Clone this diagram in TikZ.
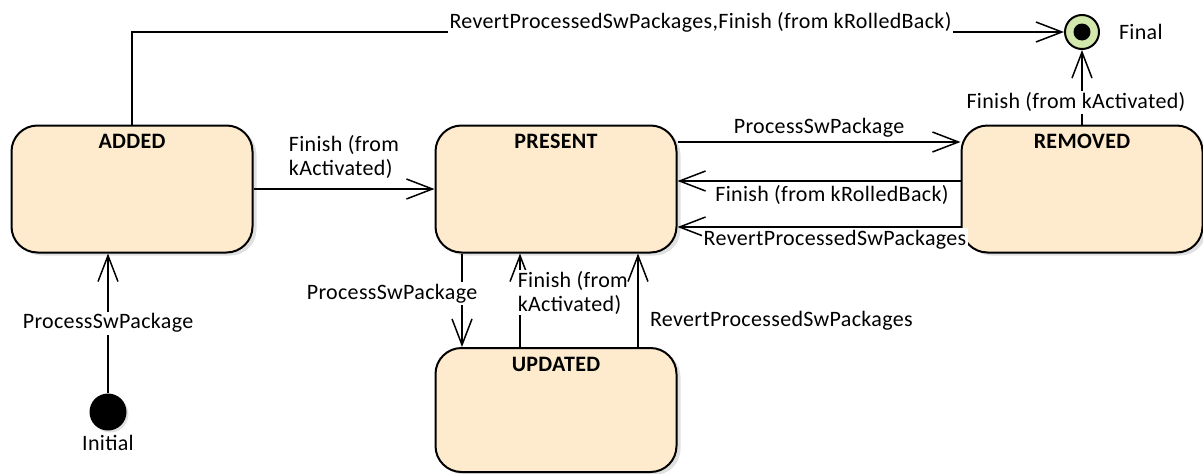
\documentclass[tikz,border=0pt]{standalone}
\usepackage{fontspec}
\setmainfont{Carlito}[LetterSpace=1.5]
\usetikzlibrary{arrows.meta}
\usetikzlibrary{positioning}
\usetikzlibrary{shadows}
\definecolor{statefill}{RGB}{254,234,204}
\definecolor{finalfill}{RGB}{210,232,172}
\newcommand{\labelfont}{\fontsize{22pt}{24pt}\selectfont}
\tikzstyle{state} = [rectangle, draw, line width=2pt, rounded corners=26pt, fill=statefill, minimum width=241pt, text height=15pt, text depth=96pt, inner sep=8pt, font=\labelfont\bfseries, drop shadow={shadow xshift=4pt, shadow yshift=-3pt, opacity=0.2, fill=black!60}]
\tikzstyle{initstate} = [circle, fill=black, minimum size=37pt, inner sep=0pt, drop shadow={shadow xshift=2pt, shadow yshift=-2pt, opacity=0.2, fill=black!60}]
\tikzstyle{finalstate} = [circle, draw, line width=2pt, fill=finalfill, minimum size=34pt, inner sep=0pt, path picture={\fill[black] (path picture bounding box.center) circle (8.5pt);}]
\tikzstyle{trans} = [fill=white, inner sep=2pt]

\begin{document}
\begin{tikzpicture}[x=1pt, y=-1pt, line width=1.5pt, font=\labelfont]

		\useasboundingbox (0,0) rectangle (1203,474);

		\node [state] (A) at (132,189) {ADDED};
		\node [state] (P) at (556,189) {PRESENT};
		\node [state] (R) at (1082,189) {REMOVED};
		\node [state, text depth=93pt] (U) at (556,410) {UPDATED};

		\node [initstate] (I) at (108,412) {};
		\node [below=0pt of I] (IL) {Initial};
		\node [finalstate] (F) at (1082,32) {};
		\node [right=15pt of F] (FL) {Final};

		% transitions
		\draw[-{Straight Barb[length=26pt, width=20pt]}] (I) -- node[trans] {ProcessSwPackage} (I |- A.south);
		\draw[-{Straight Barb[length=26pt, width=20pt]}] (A.north) |- node[trans, pos=0.805, yshift=10pt] {RevertProcessedSwPackages,Finish (from kRolledBack)} (F.west);
		\draw[-{Straight Barb[length=26pt, width=20pt]}] (A.east) -- node[above=6pt, align=left] {Finish (from\\kActivated)} (A.east -| P.west);

		\draw[-{Straight Barb[length=26pt, width=20pt]}] ([yshift=47pt]P.east) -- node[above=1pt] {ProcessSwPackage} ([yshift=47pt]R.west);
		\draw[-{Straight Barb[length=26pt, width=20pt]}] ([yshift=8pt]R.west) -- node[below=0pt, xshift=13pt] {Finish (from kRolledBack)} ([yshift=8pt]P.east);
		\draw[-{Straight Barb[length=26pt, width=20pt]}] ([yshift=-38pt]R.west) -- node[trans, below=0pt, xshift=16pt] {RevertProcessedSwPackages} ([yshift=-38pt]P.east);
		\draw[-{Straight Barb[length=26pt, width=20pt]}] (R) -- node[trans, pos=0.3, xshift=-6pt] {Finish (from kActivated)} (F);

		\draw[-{Straight Barb[length=26pt, width=20pt]}] ([xshift=-94pt]P.south) -- node[trans, pos=0.43, xshift=-70pt] {ProcessSwPackage} ([xshift=-94pt]U.north);
		\draw[-{Straight Barb[length=26pt, width=20pt]}] ([xshift=-36pt]U.north) -- node[trans, anchor=west, align=left, pos=0.58, xshift=-4pt, inner sep=1pt] {Finish (from\\kActivated)} ([xshift=-36pt]P.south);
		\draw[-{Straight Barb[length=26pt, width=20pt]}] ([xshift=82pt]U.north) -- node[anchor=west, pos=0.28, xshift=8pt] {RevertProcessedSwPackages} ([xshift=82pt]P.south);

	\end{tikzpicture}
\end{document}
